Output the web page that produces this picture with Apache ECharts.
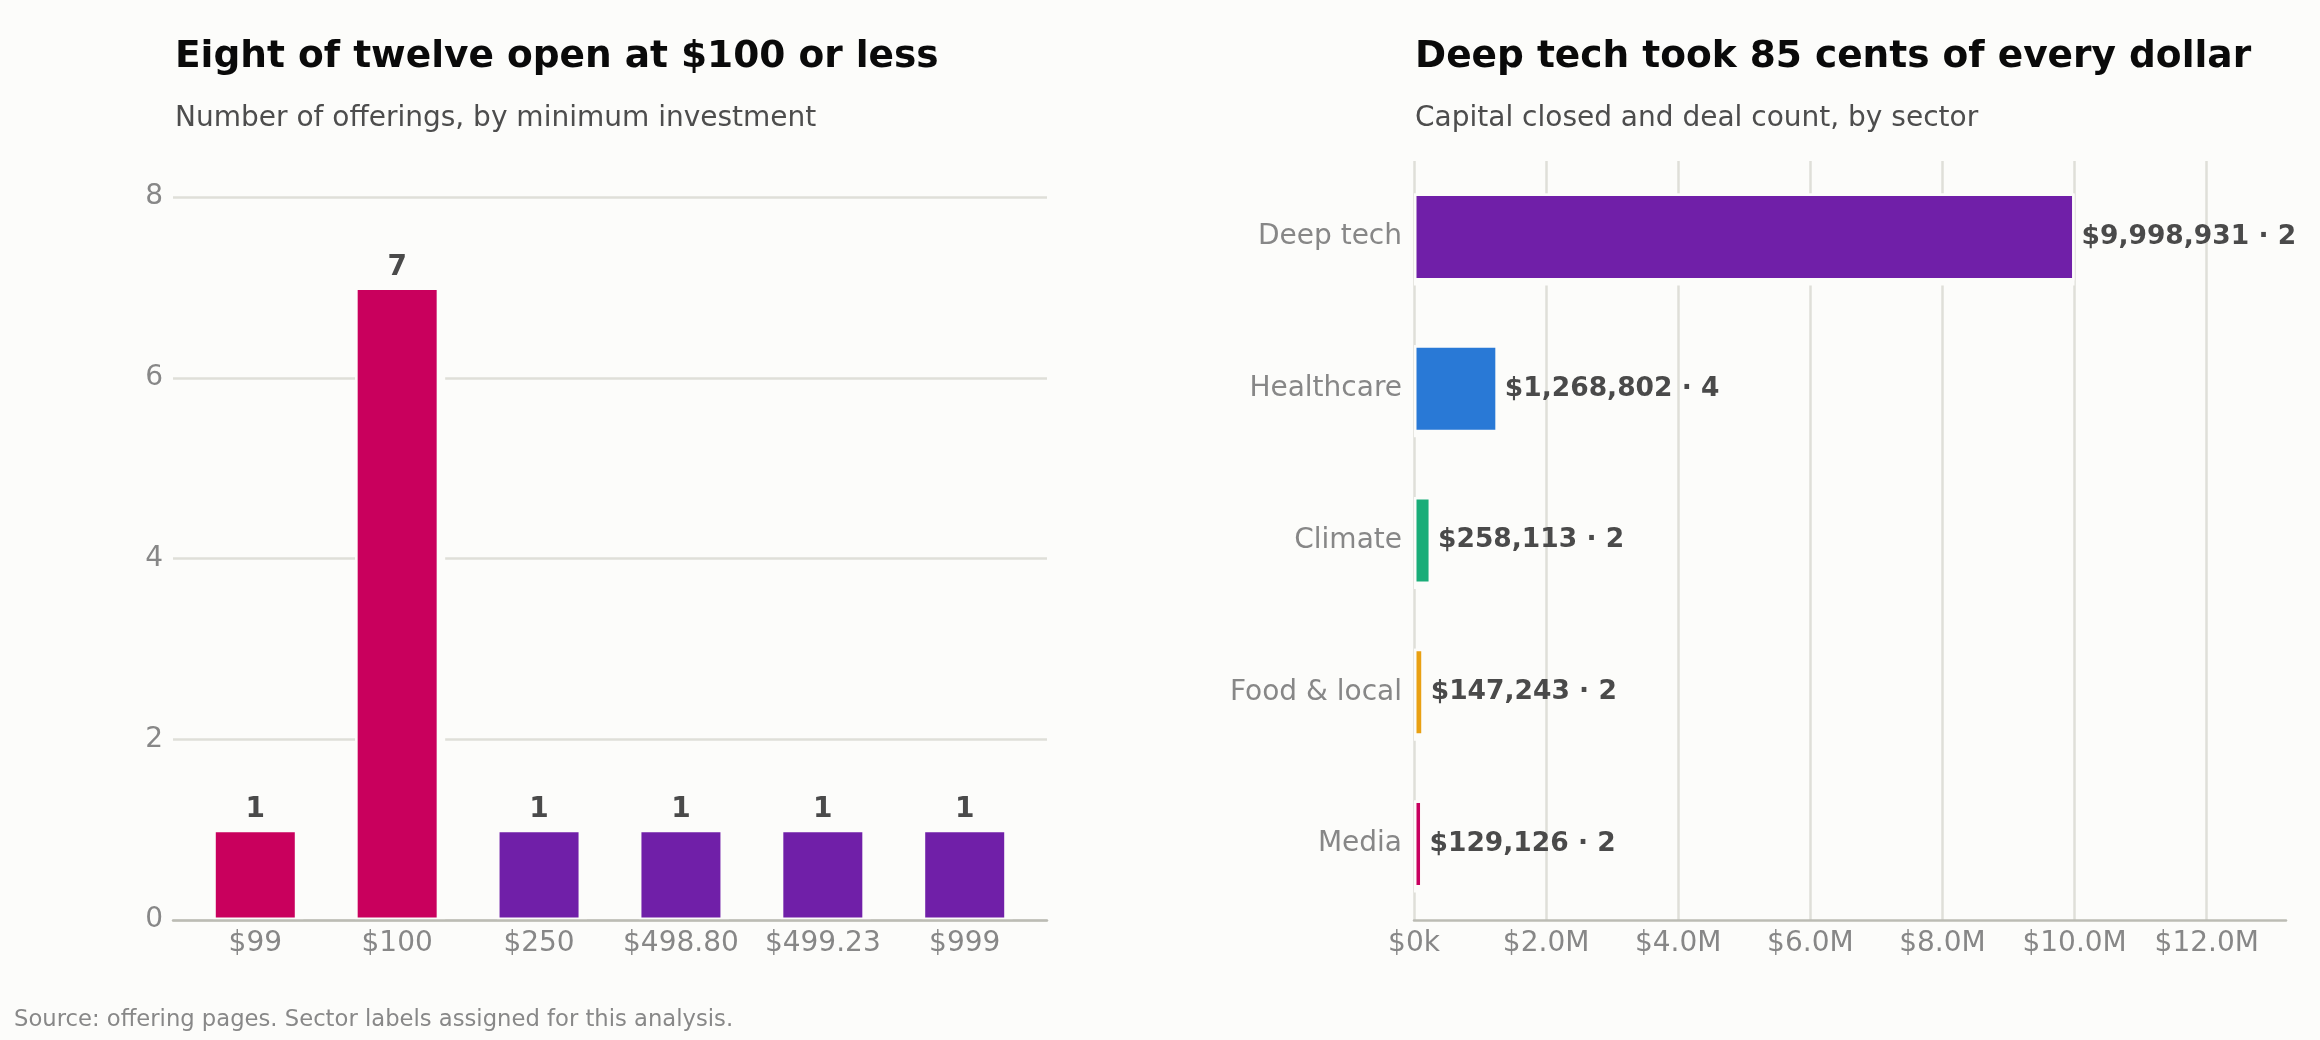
<!DOCTYPE html>
<html lang="en">
<head>
    <meta charset="UTF-8">
    <title>Offerings and sectors</title>
    <script src="https://cdn.jsdelivr.net/npm/echarts@6/dist/echarts.min.js"></script>
    <style>
        body {
            margin: 0;
            padding: 0;
            background: #fcfcfa;
        }

        #main {
            width: 2320px;
            height: 1040px;
        }
    </style>
</head>
<body>
    <div id="main"></div>

    <script type="text/javascript">
        // left chart: offerings by minimum investment
        var minLabels = ['$99', '$100', '$250', '$498.80', '$499.23', '$999'];
        var minCounts = [1, 7, 1, 1, 1, 1];

        // right chart: capital closed and deal count by sector
        var sectors = ['Deep tech', 'Healthcare', 'Climate', 'Food & local', 'Media'];
        var capital = [9998931, 1268802, 258113, 147243, 129126];
        var deals = [2, 4, 2, 2, 2];
        var capitalTicks = [0, 2000000, 4000000, 6000000, 8000000, 10000000, 12000000];

        // styles
        var bg = '#fcfcfa';
        var minColors = ['#c9005d', '#c9005d', '#701fa8', '#701fa8', '#701fa8', '#701fa8'];
        var sectorColors = ['#701fa8', '#2979d6', '#19ad78', '#e9a012', '#c8005f'];
        var gridColor = '#dfdfd8';
        var axisColor = '#bcbcb4';
        var tickColor = '#878787';
        var labelColor = '#4a4a4a';
        var font = 'DejaVu Sans';

        function money(v) {
            return '$' + v.toString().replace(/\B(?=(\d{3})+(?!\d))/g, ',');
        }

        var myChart = echarts.init(document.getElementById('main'));

        var leftData = minCounts.map(function (v, i) {
            return { value: [i, v], itemStyle: { color: minColors[i] } };
        });
        var rightData = capital.map(function (v, i) {
            return { value: v, itemStyle: { color: sectorColors[i] } };
        });

        option = {
            backgroundColor: bg,
            animation: false,
            textStyle: { fontFamily: font },
            title: [{
                text: 'Eight of twelve open at $100 or less',
                subtext: 'Number of offerings, by minimum investment',
                left: 170, top: 33, itemGap: 29,
                textStyle: { fontSize: 37.5, fontWeight: 'bold', color: '#0a0a0a', fontFamily: font },
                subtextStyle: { fontSize: 28, color: '#4d4d4d', fontFamily: font }
            }, {
                text: 'Deep tech took 85 cents of every dollar',
                subtext: 'Capital closed and deal count, by sector',
                left: 1410, top: 33, itemGap: 29,
                textStyle: { fontSize: 37.5, fontWeight: 'bold', color: '#0a0a0a', fontFamily: font },
                subtextStyle: { fontSize: 28, color: '#4d4d4d', fontFamily: font }
            }, {
                text: 'Source: offering pages. Sector labels assigned for this analysis.',
                left: 9, top: 1004,
                textStyle: { fontSize: 22.7, fontWeight: 'normal', color: '#888888', fontFamily: font }
            }],
            grid: [
                { left: 173, right: 1273, top: 197, bottom: 120 },
                { left: 1414, right: 34, top: 161, bottom: 120 }
            ],
            xAxis: [{
                gridIndex: 0,
                type: 'value',
                min: -0.58,
                max: 5.58,
                z: 10,
                axisLine: { show: true, lineStyle: { color: axisColor, width: 2.5 } },
                axisTick: { show: false },
                splitLine: { show: false },
                axisLabel: {
                    customValues: minLabels.map(function (d, i) { return i; }),
                    formatter: function (v) { return minLabels[Math.round(v)]; },
                    color: tickColor, fontSize: 28, margin: 10
                }
            }, {
                gridIndex: 1,
                type: 'value',
                min: 0,
                max: 13200000,
                interval: 2000000,
                axisLine: { show: true, lineStyle: { color: axisColor, width: 2.5 } },
                axisTick: { show: false },
                splitLine: { show: true, showMaxLine: false, lineStyle: { color: gridColor, width: 2.5 } },
                axisLabel: {
                    customValues: capitalTicks,
                    formatter: function (v) {
                        return v === 0 ? '$0k' : '$' + (v / 1e6).toFixed(1) + 'M';
                    },
                    color: tickColor, fontSize: 28, margin: 10
                }
            }],
            yAxis: [{
                gridIndex: 0,
                type: 'value',
                min: 0,
                max: 8,
                interval: 2,
                axisLine: { show: false },
                axisTick: { show: false },
                splitLine: { show: true, lineStyle: { color: gridColor, width: 2.5 } },
                axisLabel: { color: tickColor, fontSize: 28, margin: 10 }
            }, {
                gridIndex: 1,
                type: 'category',
                inverse: true,
                data: sectors,
                axisLine: { show: false },
                axisTick: { show: false },
                axisLabel: { color: tickColor, fontSize: 28, margin: 12 }
            }],
            series: [{
                // halo that cuts the gridlines around each bar
                type: 'bar',
                xAxisIndex: 0, yAxisIndex: 0,
                silent: true,
                barWidth: 90,
                itemStyle: { color: bg },
                data: minCounts.map(function (v, i) { return [i, v]; })
            }, {
                type: 'bar',
                xAxisIndex: 0, yAxisIndex: 0,
                barWidth: 84,
                barGap: '-100%',
                itemStyle: { borderColor: bg, borderWidth: 2.5 },
                label: {
                    show: true, position: 'top', distance: 6,
                    color: labelColor, fontSize: 28, fontWeight: 'bold',
                    formatter: function (p) { return p.value[1]; }
                },
                data: leftData
            }, {
                type: 'bar',
                xAxisIndex: 1, yAxisIndex: 1,
                silent: true,
                barWidth: 92,
                itemStyle: { color: bg },
                data: capital
            }, {
                type: 'bar',
                xAxisIndex: 1, yAxisIndex: 1,
                barWidth: 87,
                barGap: '-100%',
                itemStyle: { borderColor: bg, borderWidth: 2.5 },
                label: {
                    show: true, position: 'right', distance: 7,
                    color: labelColor, fontSize: 26.5, fontWeight: 'bold',
                    formatter: function (p) { return money(p.value) + ' \u00b7 ' + deals[p.dataIndex]; }
                },
                data: rightData
            }]
        };
        myChart.setOption(option);
    </script>
</body>
</html>
